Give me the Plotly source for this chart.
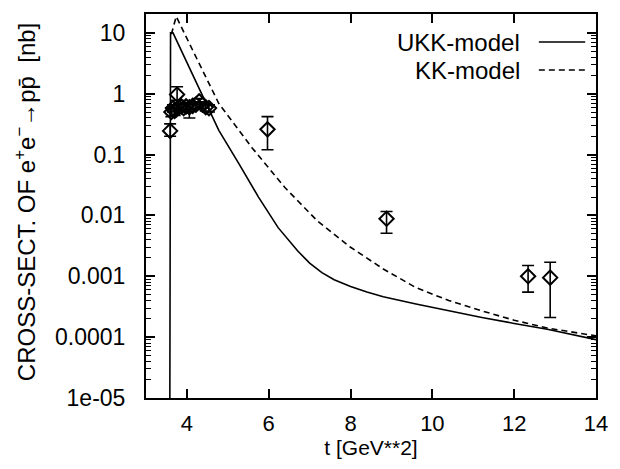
import plotly.graph_objects as go

# ---- data ----
# UKK-model (solid)
ukk_t = [3.58, 3.60, 3.66, 4.00, 4.40, 4.78, 5.27, 5.75, 6.23, 6.71, 7.00, 7.30, 7.60, 8.00, 8.40, 8.80, 9.60, 10.40, 11.21, 12.00, 12.81, 14.0]
ukk_v = [1e-6, 10.0, 10.0, 3.2, 0.87, 0.25, 0.071, 0.020, 0.0063, 0.0026, 0.00165, 0.00115, 0.00088, 0.00068, 0.00055, 0.00046, 0.00035, 0.00027, 0.00021, 0.000168, 0.000135, 0.000091]

# KK-model (dashed)
kk_t = [3.62, 3.74, 4.00, 4.40, 4.78, 5.59, 6.39, 7.19, 8.00, 8.80, 9.60, 10.40, 11.21, 12.00, 12.81, 14.0]
kk_v = [9.5, 18.6, 8.1, 2.3, 0.69, 0.13, 0.029, 0.0081, 0.0030, 0.00132, 0.00065, 0.00040, 0.00027, 0.00019, 0.000141, 0.000105]

# experimental points
dat_t = [3.59, 3.62, 3.66, 3.70, 3.76, 3.80, 3.86, 3.92, 3.98, 4.06, 4.14, 4.22, 4.30, 4.38, 4.46, 4.54, 5.97, 8.88, 12.34, 12.88]
dat_v = [0.245, 0.50, 0.58, 0.52, 0.97, 0.60, 0.62, 0.58, 0.62, 0.60, 0.63, 0.66, 0.75, 0.66, 0.60, 0.58, 0.26, 0.0088, 0.00100, 0.00095]
dat_up = [0.075, 0.08, 0.08, 0.08, 0.33, 0.08, 0.08, 0.08, 0.08, 0.08, 0.08, 0.08, 0.08, 0.08, 0.08, 0.08, 0.16, 0.0028, 0.00050, 0.00075]
dat_dn = [0.045, 0.08, 0.08, 0.08, 0.19, 0.08, 0.08, 0.08, 0.08, 0.20, 0.08, 0.08, 0.08, 0.08, 0.08, 0.08, 0.14, 0.0037, 0.00045, 0.00074]

x_ticks = [4, 6, 8, 10, 12, 14]
y_tickvals = [10, 1, 0.1, 0.01, 0.001, 0.0001, 0.00001]
y_ticktext = ["10", "1", "0.1", "0.01", "0.001", "0.0001", "1e-05"]

FONT = "Liberation Sans, Arial, sans-serif"

fig = go.Figure()
fig.add_trace(go.Scatter(x=ukk_t, y=ukk_v, mode="lines", name="UKK-model",
                         line=dict(color="black", width=1.6), showlegend=False))
fig.add_trace(go.Scatter(x=kk_t, y=kk_v, mode="lines", name="KK-model",
                         line=dict(color="black", width=1.6, dash="6px,4px"), showlegend=False))
fig.add_trace(go.Scatter(x=dat_t, y=dat_v, mode="markers", name="data",
                         marker=dict(symbol="diamond-open", size=11, color="black",
                                     line=dict(color="black", width=2)),
                         error_y=dict(type="data", array=dat_up, arrayminus=dat_dn,
                                      color="black", thickness=1.6, width=6),
                         showlegend=False))

axis_common = dict(showline=True, linecolor="black", linewidth=2, mirror="allticks",
                   ticks="inside", tickcolor="black", tickwidth=1.6, ticklen=9,
                   showgrid=False, zeroline=False)

fig.update_xaxes(range=[3, 14], tickvals=x_ticks, ticktext=[str(v) for v in x_ticks],
                 ticklabelstandoff=5,
                 tickfont=dict(family=FONT, size=22, color="black"),
                 title=dict(text="t [GeV**2]", font=dict(family=FONT, size=21, color="black"), standoff=4),
                 **axis_common)
fig.update_yaxes(type="log", range=[-5, 1.31], tickvals=y_tickvals, ticktext=y_ticktext,
                 ticklabelstandoff=14,
                 tickfont=dict(family=FONT, size=23, color="black"),
                 minor=dict(ticks="inside", ticklen=5, tickcolor="black", tickwidth=1.3,
                            dtick="D1", showgrid=False),
                 **axis_common)

# y-axis title as annotation
fig.add_annotation(text="CROSS-SECT. OF e<sup>+</sup>e<sup>\u2212</sup>\u2192pp\u0304  [nb]",
                   xref="paper", yref="paper", x=0, y=0.51, xshift=-121,
                   xanchor="center", yanchor="middle", textangle=-90, showarrow=False,
                   font=dict(family=FONT, size=24, color="black"))

# gnuplot-style key: text right-aligned, sample to the right
for label, yk, dash in [("UKK-model", 0.927, "solid"), ("KK-model", 0.854, "6px,4px")]:
    fig.add_annotation(text=label, xref="paper", yref="paper", x=0.836, y=yk,
                       xanchor="right", yanchor="middle", showarrow=False,
                       font=dict(family=FONT, size=24, color="black"))
    fig.add_shape(type="line", xref="paper", yref="paper", x0=0.873, x1=0.976, y0=yk, y1=yk,
                  line=dict(color="black", width=1.6, dash=dash))

fig.update_layout(width=620, height=469, margin=dict(l=146, r=17, t=14, b=71),
                  paper_bgcolor="white", plot_bgcolor="white",
                  font=dict(family=FONT, color="black"))

fig.write_html("out.html")
